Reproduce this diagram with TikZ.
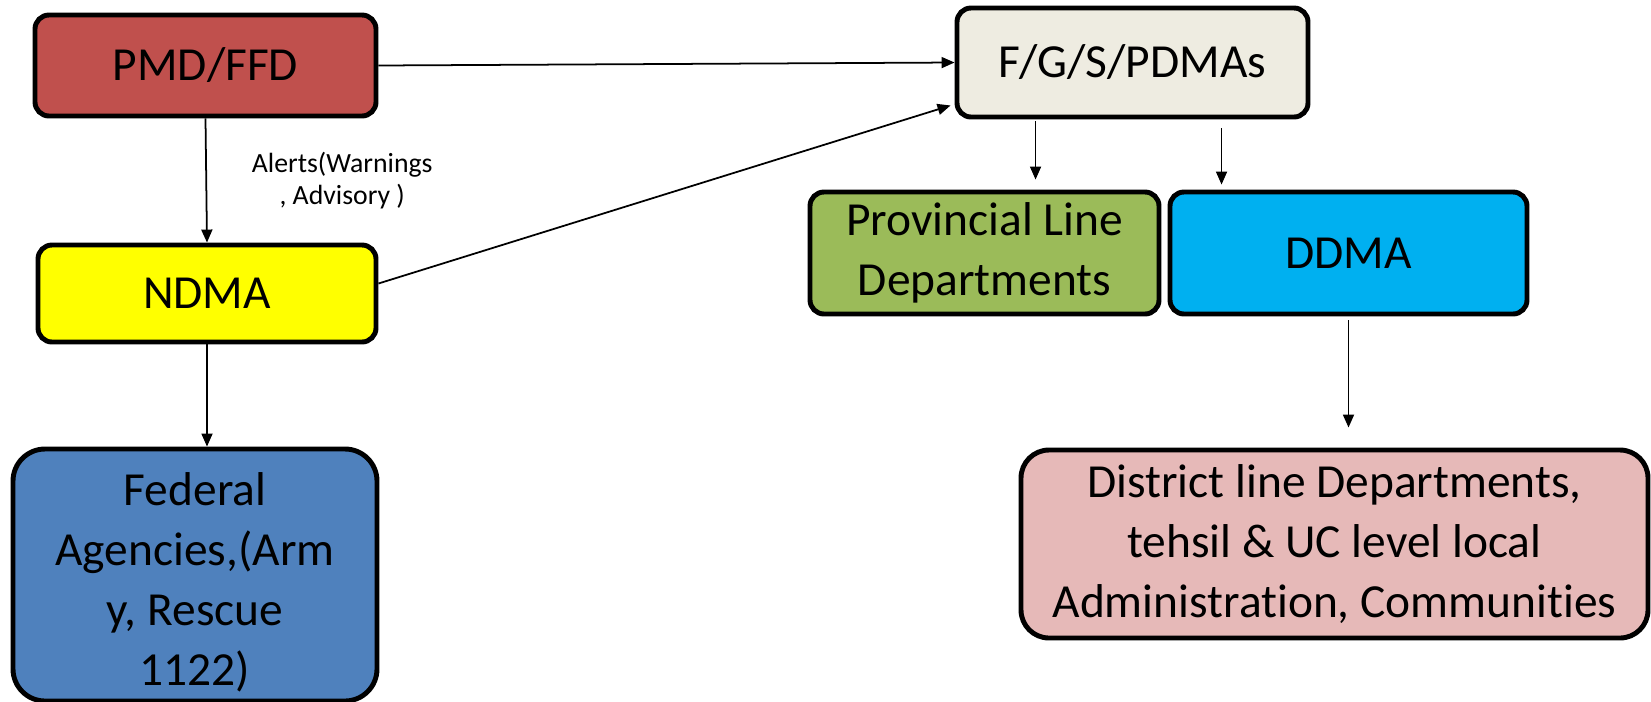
\documentclass[tikz,border=0pt]{standalone}
\usepackage{fontspec}
\setmainfont[Ligatures=NoCommon]{Carlito}
\usepackage{tikz}
\usetikzlibrary{arrows.meta, positioning, calc}
\definecolor{pmdred}{RGB}{192, 80, 77}
\definecolor{fgsgray}{RGB}{238, 236, 225}
\definecolor{ndmayellow}{RGB}{255, 255, 0}
\definecolor{provgreen}{RGB}{155, 187, 89}
\definecolor{ddmablue}{RGB}{0, 176, 240}
\definecolor{fedblue}{RGB}{79, 129, 189}
\definecolor{distpink}{RGB}{230, 185, 184}

\begin{document}
\begin{tikzpicture}[
    box/.style={draw=black, line width=1.4pt, rounded corners=0.14cm, align=center,
        inner sep=0pt, font=\fontsize{13.5}{17}\selectfont},
    link/.style={-{Triangle[length=1.3mm, width=1.1mm]}, line width=0.5pt}
]
    \useasboundingbox (0, 0) rectangle (16.51, -7.01);

    % Boxes
    \node[box, fill=pmdred, minimum width=3.41cm, minimum height=1.01cm] (pmd) at (2.055, -0.655) {PMD/FFD};
    \node[box, fill=fgsgray, minimum width=3.51cm, minimum height=1.09cm] (fgs) at (11.325, -0.625) {F/G/S/PDMAs};
    \node[box, fill=ndmayellow, minimum width=3.38cm, minimum height=0.97cm] (ndma) at (2.07, -2.935) {NDMA};
    \node[box, fill=provgreen, minimum width=3.49cm, minimum height=1.22cm] (prov) at (9.845, -2.53) {Provincial Line\\Departments};
    \node[box, fill=ddmablue, minimum width=3.57cm, minimum height=1.22cm] (ddma) at (13.485, -2.53) {DDMA};
    \node[box, fill=fedblue, rounded corners=0.32cm, minimum width=3.64cm, minimum height=2.52cm] (fed) at (1.95, -5.75)
        {\\[-0.12cm]Federal\\Agencies,(Arm\\y, Rescue\\1122)};
    \node[box, fill=distpink, rounded corners=0.28cm, minimum width=6.27cm, minimum height=1.88cm] (dist) at (13.345, -5.44)
        {District line Departments,\\tehsil \& UC level local\\Administration, Communities};

    % Connector ends under F/G/S/PDMAs
    \coordinate (fgsleft) at ($(fgs.south west)+(0.81, -0.02)$);
    \coordinate (fgsright) at ($(fgs.south west)+(2.67, 0)$);

    % Connectors
    \draw[link] (pmd.south) -- (ndma.north)
        node[midway, right=0.33cm, align=center, font=\fontsize{7.9}{9}\selectfont] (alerts) {Alerts(Warnings\\, Advisory )};
    \draw[link] (pmd.east) -- (fgs.west);
    \draw[link] ($(ndma.east)+(0, 0.1)$) -- ($(fgs.south west)+(-0.04, 0.14)$);
    \draw[link] (ndma.south) -- (ndma.south |- fed.north);
    \draw[link, shorten >=0.1cm] (fgsleft) -- (fgsleft |- prov.north);
    \draw[link, shorten <=0.09cm, shorten >=0.05cm] (fgsright) -- (fgsright |- ddma.north);
    \draw[link, shorten <=0.04cm, shorten >=0.2cm] (ddma.south) -- (ddma.south |- dist.north);
\end{tikzpicture}
\end{document}
